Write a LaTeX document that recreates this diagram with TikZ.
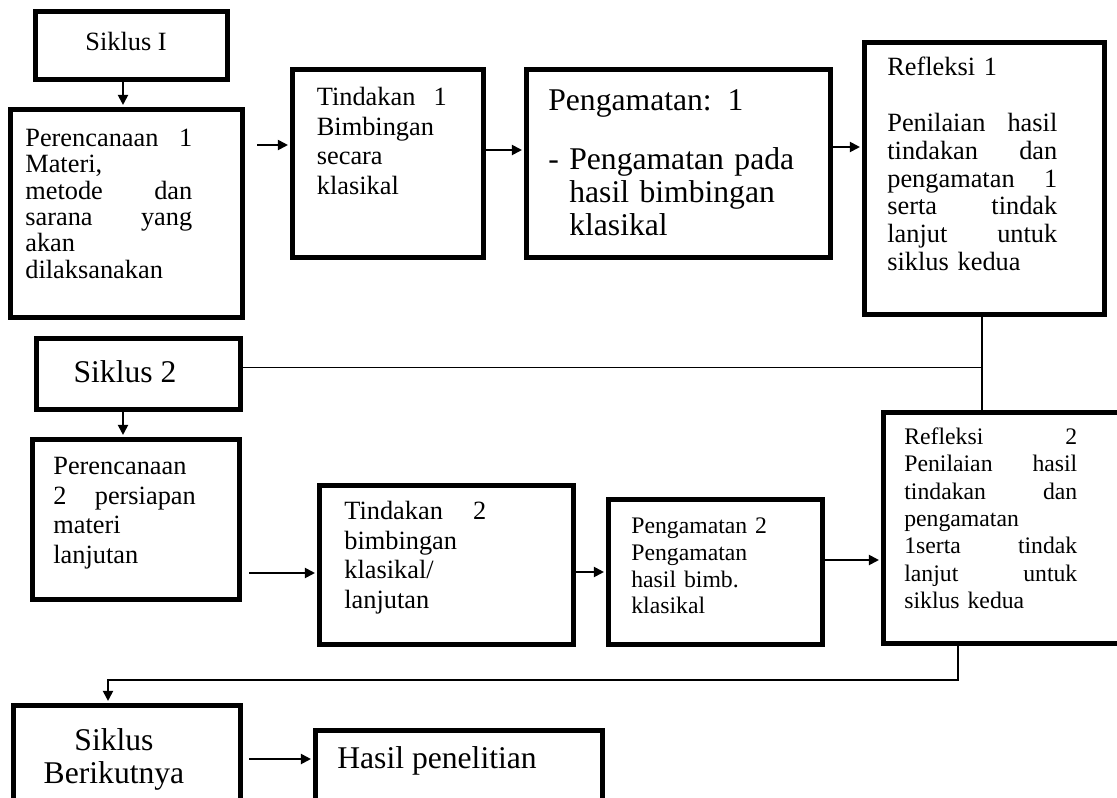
\documentclass[tikz,border=0pt]{standalone}
\usepackage{fontspec}
\setmainfont{Liberation Serif}
\usetikzlibrary{arrows.meta,calc}
\newcommand{\setfs}[2]{\fontsize{#1}{#2}\selectfont}
\tikzset{
 box/.style={draw, line width=2.8pt, inner sep=0pt, rectangle},
 txt/.style={inner sep=0pt, anchor=north west, align=left},
 conn/.style={line width=1.1pt},
 arr/.style={line width=1.1pt, -{Triangle[length=5.7pt,width=5.7pt]}, shorten >=1.2pt},
}
\begin{document}
\begin{tikzpicture}[x=0.02cm,y=-0.02cm]
\useasboundingbox (0,0) rectangle (1117,798);
\clip (0,0) rectangle (1117,798);
\fill[white] (0,0) rectangle (1117,798);

% boxes
\node[box, minimum width=3.84cm, minimum height=1.36cm] (S1) at (131.5,45.5) {};
\node[box, minimum width=4.64cm, minimum height=4.16cm] (P1) at (126.5,213.5) {};
\node[box, minimum width=3.82cm, minimum height=3.76cm] (T1) at (388,163.5) {};
\node[box, minimum width=6.08cm, minimum height=3.76cm] (PG1) at (678.5,163.5) {};
\node[box, minimum width=4.80cm, minimum height=5.44cm] (R1) at (984.5,178.5) {};
\node[box, minimum width=4.08cm, minimum height=1.42cm] (S2) at (138.5,374) {};
\node[box, minimum width=4.14cm, minimum height=3.20cm] (P2) at (136,519.5) {};
\node[box, minimum width=5.08cm, minimum height=3.18cm] (T2) at (446.5,565) {};
\node[box, minimum width=4.28cm, minimum height=2.90cm] (PG2) at (715.5,572) {};
\node[box, minimum width=5.13cm, minimum height=4.62cm] (R2) at (1011.75,528) {};
\node[box, minimum width=4.54cm, minimum height=2.69cm] (SB) at (127,772.75) {};
\node[box, minimum width=5.74cm, minimum height=2.59cm] (H) at (459,795.25) {};

% texts
\node[anchor=base, inner sep=0pt, font=\setfs{15}{17}] (tS1) at (126,50) {Siklus I};
\node[txt, text width=3.34cm, font=\setfs{15}{15}] (tP1) at (25,127.5)
 {\strut Perencanaan\hfill 1\\ Materi,\\ metode\hfill dan\\ sarana\hfill yang\\ akan\\ dilaksanakan};
\node[txt, text width=2.6cm, font=\setfs{15}{17}] (tT1) at (316.5,84)
 {\strut Tindakan\hfill 1\\ Bimbingan\\ secara\\ klasikal};
\node[txt, text width=5.3cm, font=\setfs{18}{18.7}] (tPG1) at (548,86.9)
 {\strut Pengamatan: 1\\[15pt] \makebox[0.42cm][l]{-}Pengamatan pada\\ \hspace*{0.42cm}hasil bimbingan\\ \hspace*{0.42cm}klasikal};
\node[txt, text width=3.4cm, font=\setfs{15}{15.9}] (tR1) at (887,55.4)
 {\strut Refleksi 1\\[15.9pt] Penilaian\hfill hasil\\ tindakan\hfill dan\\ pengamatan\hfill 1\\ serta\hfill tindak\\ lanjut\hfill untuk\\ siklus kedua};
\node[anchor=base, inner sep=0pt, font=\setfs{18}{20}] (tS2) at (125,382) {Siklus 2};
\node[txt, text width=2.85cm, font=\setfs{15}{17}] (tP2) at (53,453)
 {\strut Perencanaan\\ 2\hfill persiapan\\ materi\\ lanjutan};
\node[txt, text width=2.84cm, font=\setfs{15}{17}] (tT2) at (344,498)
 {\strut Tindakan\hfill 2\\ bimbingan\\ klasikal/\\ lanjutan};
\node[txt, text width=3.6cm, font=\setfs{13.5}{15.3}] (tPG2) at (631,514.1)
 {\strut Pengamatan 2\\ Pengamatan\\ hasil bimb.\\ klasikal};
\node[txt, text width=3.46cm, font=\setfs{13.5}{15.6}] (tR2) at (904,424.75)
 {\strut Refleksi\hfill 2\\ Penilaian\hfill hasil\\ tindakan\hfill dan\\ pengamatan\\ 1serta\hfill tindak\\ lanjut\hfill untuk\\ siklus kedua};
\node[txt, anchor=north, align=center, text width=3.6cm, font=\setfs{18}{17.6}] (tSB) at (114,728.3)
 {\strut Siklus\\ Berikutnya};
\node[anchor=base west, inner sep=0pt, font=\setfs{18}{20}] (tH) at (337,768) {Hasil penelitian};

% connectors
\coordinate (a1) at ([xshift=-0.17cm]S1.south);
\draw[arr] (a1) -- (a1 |- P1.north);

\coordinate (a2e) at ([yshift=0.37cm]T1.west);
\coordinate (a2s) at ($(a2e -| P1.east)+(0.25cm,0)$);
\draw[arr] (a2s) -- (a2e);

\coordinate (a3) at ([yshift=0.27cm]T1.east);
\draw[arr] (a3) -- (a3 -| PG1.west);

\coordinate (a4) at ([yshift=0.33cm]PG1.east);
\draw[arr] (a4) -- (a4 -| R1.west);

\coordinate (j1) at ([xshift=-0.05cm]R1.south);
\draw[conn] (j1) -- (j1 |- R2.north);
\coordinate (a5) at ([yshift=0.13cm]S2.east);
\draw[conn] (a5) -- (a5 -| j1);

\coordinate (a6) at ([xshift=-0.31cm]S2.south);
\draw[arr] (a6) -- (a6 |- P2.north);

\coordinate (a7e) at ([yshift=-0.16cm]T2.west);
\coordinate (a7s) at ($(a7e -| P2.east)+(0.15cm,0)$);
\draw[arr] (a7s) -- (a7e);

\coordinate (a8) at (PG2.west);
\draw[arr] (a8 -| T2.east) -- (a8);

\coordinate (a9) at ([yshift=0.24cm]PG2.east);
\draw[arr] (a9) -- (a9 -| R2.west);

\coordinate (a10) at ([xshift=-1.075cm]R2.south);
\coordinate (a10t) at ([xshift=-0.38cm]SB.north);
\draw[arr] (a10) -- ++(0,-0.69cm) -| (a10t);

\coordinate (a11) at ([yshift=0.275cm]SB.east);
\coordinate (a11s) at ($(a11)+(0.13cm,0)$);
\draw[arr] (a11s) -- (a11 -| H.west);
\end{tikzpicture}
\end{document}
